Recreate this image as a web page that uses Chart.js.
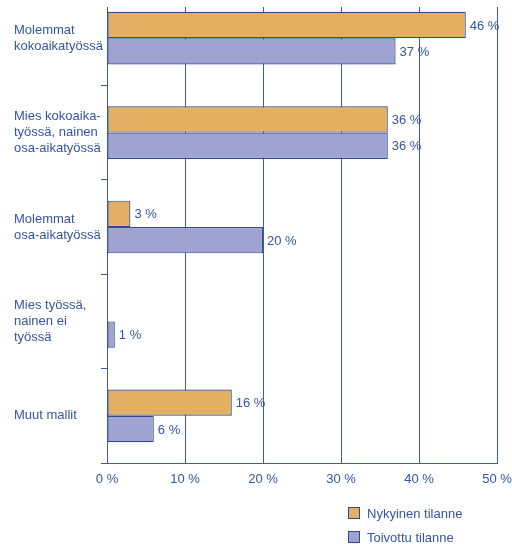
<!DOCTYPE html>
<html>
<head>
<meta charset="utf-8">
<script src="https://cdn.jsdelivr.net/npm/chart.js@4"></script>
<style>
  body { margin: 0; background: #fff; }
  #wrap { position: relative; width: 512px; height: 544px; overflow: hidden; }
  #box { position: absolute; left: 0; top: -20px; width: 512px; height: 564px; }
  .leg { position: absolute; left: 348px; font: 13px "Liberation Sans", Arial, sans-serif; color: #35559f; }
  .leg span { display: inline-block; width: 10px; height: 10px; border: 1px solid #2c4a96; vertical-align: -1px; margin-right: 7px; }
</style>
</head>
<body>
<div id="wrap">
  <div id="box"><canvas id="chart"></canvas></div>
  <div class="leg" style="top:506px"><span style="background:#e3af62"></span>Nykyinen tilanne</div>
  <div class="leg" style="top:530px"><span style="background:#a0a2cf"></span>Toivottu tilanne</div>
</div>
<script>
// categories and values (percent)
const categories = [
    ['Molemmat', 'kokoaikatyössä'],
    ['Mies kokoaika-', 'työssä, nainen', 'osa-aikatyössä'],
    ['Molemmat', 'osa-aikatyössä'],
    ['Mies työssä,', 'nainen ei', 'työssä'],
    ['Muut mallit']
];
const nykyinen = [46, 36, 3, 0, 16];
const toivottu = [37, 36, 20, 1, 6];
const xTicks = [0, 10, 20, 30, 40, 50];

const textBlue = '#35559f';
const lineBlue = '#3b5ca8';
const barEdge = '#2c4a96';
const font = 'Liberation Sans, Arial, sans-serif';

// value labels next to bar ends
const valueLabels = {
    id: 'valueLabels',
    afterDatasetsDraw(chart) {
        const ctx = chart.ctx;
        ctx.save();
        ctx.font = '13px ' + font;
        ctx.fillStyle = textBlue;
        ctx.textBaseline = 'middle';
        chart.data.datasets.forEach((ds, i) => {
            chart.getDatasetMeta(i).data.forEach((bar, j) => {
                if (ds.data[j] > 0) ctx.fillText(ds.data[j] + ' %', bar.x + 4, bar.y + 1);
            });
        });
        ctx.restore();
    }
};

// the picture starts a bit below the first category's top
const topCut = {
    id: 'topCut',
    afterDraw(chart) {
        chart.ctx.save();
        chart.ctx.fillStyle = '#fff';
        chart.ctx.fillRect(0, 0, chart.width, 27);
        chart.ctx.restore();
    }
};

new Chart(document.getElementById('chart'), {
    type: 'bar',
    data: {
        labels: categories,
        datasets: [{
            label: 'Nykyinen tilanne',
            data: nykyinen,
            backgroundColor: '#e3af62',
            borderColor: barEdge,
            borderWidth: 1.2,
            borderSkipped: false
        }, {
            label: 'Toivottu tilanne',
            data: toivottu,
            backgroundColor: '#a0a2cf',
            borderColor: barEdge,
            borderWidth: 1.2,
            borderSkipped: false
        }]
    },
    options: {
        indexAxis: 'y',
        responsive: true,
        maintainAspectRatio: false,
        animation: false,
        categoryPercentage: 0.558,
        barPercentage: 1,
        layout: { padding: { left: 14, right: 15, top: 8, bottom: 0 } },
        plugins: { legend: { display: false }, tooltip: { enabled: false } },
        scales: {
            x: {
                min: 0,
                max: 50,
                afterBuildTicks: s => { s.ticks = xTicks.map(v => ({ value: v })); },
                afterFit: s => { s.height = 81; s.paddingLeft = 0; s.paddingRight = 0; },
                grid: { color: lineBlue, lineWidth: 1, drawTicks: false },
                border: { color: lineBlue },
                ticks: { color: textBlue, font: { size: 13, family: font }, padding: 9, callback: v => v + ' %' }
            },
            y: {
                afterFit: s => { s.width = 93; },
                grid: { drawOnChartArea: false, drawTicks: true, tickLength: 6, color: lineBlue, offset: true },
                border: { color: lineBlue },
                ticks: { color: textBlue, crossAlign: 'far', font: { size: 13, family: font, lineHeight: 1.23 } }
            }
        }
    },
    plugins: [valueLabels, topCut]
});
</script>
</body>
</html>
